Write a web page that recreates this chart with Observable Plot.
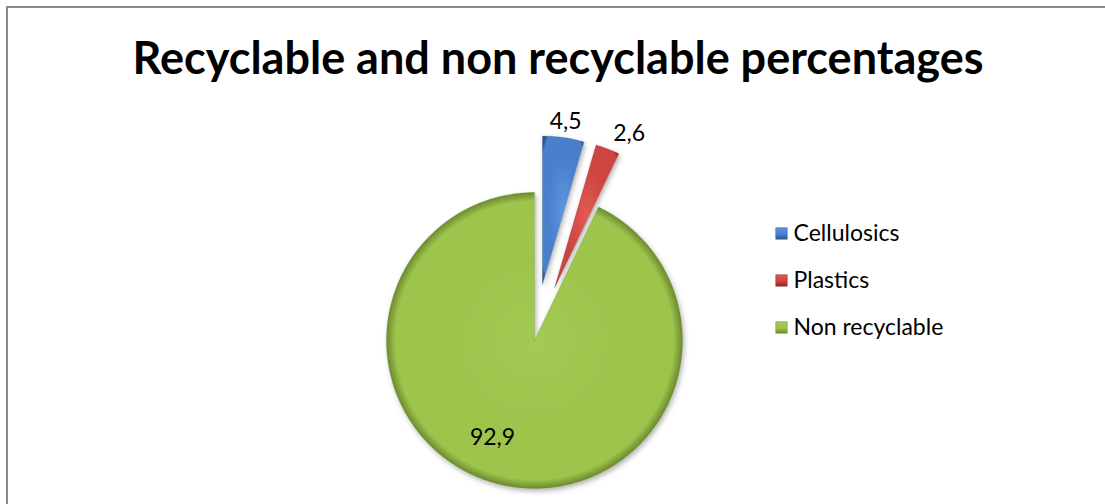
<!DOCTYPE html>
<html>
<head>
<meta charset="utf-8">
<script src="https://cdn.jsdelivr.net/npm/d3@7"></script>
<script src="https://cdn.jsdelivr.net/npm/@observablehq/plot@0.6"></script>
<style>
  html, body { margin: 0; padding: 0; background: #fff; overflow: hidden; }
  #chart svg { display: block; }
</style>
</head>
<body>
<div id="chart"></div>
<script>
const title = "Recyclable and non recyclable percentages";
const categories = ["Cellulosics", "Plastics", "Non recyclable"];
const values = [4.5, 2.6, 92.9];
const valueLabels = ["4,5", "2,6", "92,9"];
const exploded = [true, true, false];
const baseColors = ["#4a7fcb", "#cc443f", "#9dc44c"];
const lightColors = ["#5c95e0", "#e25a54", "#a3ca53"];
const darkColors = ["#2c5791", "#8e2a26", "#6c8a2e"];

const W = 1105, H = 504;
const cx = 534, cy = 340, R = 148, explode = 57;
const font = "Lato, 'Open Sans', sans-serif";

const arcs = d3.pie().sort(null).startAngle(0).endAngle(2 * Math.PI)(values);

function pt(a, r, ox, oy) {
  return {x: ox + r * Math.sin(a), y: oy - r * Math.cos(a)};
}

const slices = arcs.map((a, i) => {
  const mid = (a.startAngle + a.endAngle) / 2;
  const off = exploded[i] ? explode : 0;
  const ox = cx + off * Math.sin(mid), oy = cy - off * Math.cos(mid);
  const pts = [{x: ox, y: oy}];
  const n = Math.max(2, Math.ceil((a.endAngle - a.startAngle) / 0.01));
  for (let k = 0; k <= n; ++k) {
    const t = a.startAngle + (a.endAngle - a.startAngle) * k / n;
    pts.push(pt(t, R, ox, oy));
  }
  let lab;
  if (exploded[i]) lab = pt(mid, R + off + 16, cx, cy);
  else lab = pt(mid + 0.185, R * 0.715, cx, cy);
  const deg = mid * 180 / Math.PI;
  const anchor = exploded[i] && deg > 15 && deg < 165 ? "start" : "middle";
  return {i, name: categories[i], pts, lab, label: valueLabels[i], anchor};
});

const legendRows = categories.map((c, i) => ({name: c, i, x: 781, y: 233 + i * 47}));

const marks = [];
// title
marks.push(Plot.text([title], {x: W / 2 + 5, y: 59, text: d => d, fontSize: 45, fontWeight: "bold", fontFamily: font, fill: "#000"}));
// slices
slices.forEach(s => {
  marks.push(Plot.line(s.pts, {x: "x", y: "y", curve: "linear-closed", fill: `url(#grad${s.i})`, stroke: darkColors[s.i], strokeWidth: 0.6, strokeOpacity: 0.5}));
});
// value labels
slices.forEach(s => {
  marks.push(Plot.text([s], {x: d => d.lab.x, y: d => d.lab.y, text: "label", textAnchor: s.anchor, fontSize: 23, fontFamily: font, fill: "#000"}));
});
// legend
marks.push(Plot.dot(legendRows, {x: "x", y: "y", symbol: "square", r: 6.5, fill: d => `url(#lg${d.i})`, stroke: d => darkColors[d.i], strokeWidth: 0.5}));
marks.push(Plot.text(legendRows, {x: d => d.x + 12, y: "y", text: "name", textAnchor: "start", fontSize: 23, fontFamily: font, fill: "#000"}));

const chart = Plot.plot({
  width: W, height: H,
  margin: 0,
  x: {domain: [0, W], range: [0, W], axis: null},
  y: {domain: [0, H], range: [0, H], axis: null},
  style: {background: "#fff"},
  marks
});

const svg = d3.select(chart);
// frame: top and left edges only (the reference is cropped on the right/bottom)
svg.append("path").attr("d", `M7,${H + 5}V7H${W + 5}`).attr("fill", "none").attr("stroke", "#8a8a8a").attr("stroke-width", 2);

// gradients & shadow for the Excel-like bevel look
const defs = svg.insert("defs", ":first-child");
baseColors.forEach((c, i) => {
  const g = defs.append("radialGradient").attr("id", `grad${i}`)
    .attr("cx", "50%").attr("cy", "50%").attr("r", i === 2 ? "50%" : "65%");
  g.append("stop").attr("offset", "0%").attr("stop-color", lightColors[i]);
  g.append("stop").attr("offset", "55%").attr("stop-color", c);
  g.append("stop").attr("offset", "94%").attr("stop-color", c);
  g.append("stop").attr("offset", "100%").attr("stop-color", darkColors[i]);
  const l = defs.append("linearGradient").attr("id", `lg${i}`)
    .attr("x1", 0).attr("y1", 0).attr("x2", 0).attr("y2", 1);
  l.append("stop").attr("offset", "0%").attr("stop-color", lightColors[i]);
  l.append("stop").attr("offset", "55%").attr("stop-color", c);
  l.append("stop").attr("offset", "100%").attr("stop-color", darkColors[i]);
});
const f = defs.append("filter").attr("id", "shadow").attr("x", "-10%").attr("y", "-10%").attr("width", "130%").attr("height", "130%");
f.append("feDropShadow").attr("dx", 1.5).attr("dy", 2.5).attr("stdDeviation", 2.5).attr("flood-color", "#000").attr("flood-opacity", 0.3);
svg.selectAll("g[aria-label='line']").attr("filter", "url(#shadow)");

document.getElementById("chart").appendChild(chart);
</script>
</body>
</html>
